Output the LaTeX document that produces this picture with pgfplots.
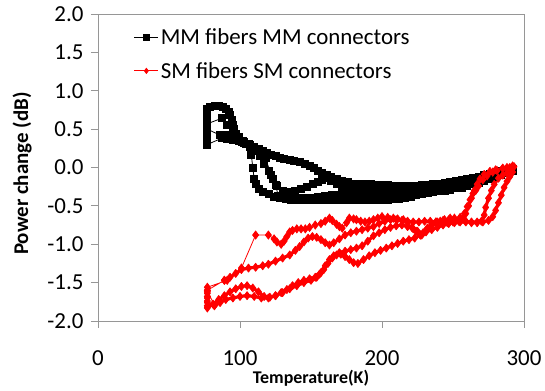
\documentclass[border=0pt]{standalone}
\usepackage{fontspec}
\setmainfont{Carlito}
\usepackage{pgfplots}
\pgfplotsset{compat=1.18}
\definecolor{axgray}{RGB}{150,150,150}
\definecolor{myred}{RGB}{255,0,0}
\begin{document}
\begin{tikzpicture}
\begin{axis}[
  name=ax, at={(0,0)}, anchor=south west,
  width=426bp, height=307bp, scale only axis,
  xmin=0, xmax=300, ymin=-2, ymax=2,
  xtick={0,100,200,300}, xticklabels={0,100,200,300},
  ytick={-2,-1.5,-1,-0.5,0,0.5,1,1.5,2},
  yticklabels={-2.0,-1.5,-1.0,-0.5,0.0,0.5,1.0,1.5,2.0},
  tick pos=left, tick align=outside, major tick length=7bp,
  axis line style={draw=axgray, line width=0.8bp},
  every tick/.style={draw=axgray, line width=0.8bp},
  ticklabel style={font=\fontsize{23}{28}\selectfont, text=black},
  xticklabel shift=19bp,
  yticklabel shift=4bp,
  xlabel={Temperature(K)},
  xlabel style={at={(rel axis cs:0.5,-0.188)}, anchor=center, font=\bfseries\fontsize{18}{22}\selectfont},
  ylabel={Power change (dB)},
  ylabel style={at={(rel axis cs:-0.178,0.48)}, anchor=center, font=\bfseries\fontsize{21}{25}\selectfont},
  legend cell align=left,
  legend style={draw=none, fill=none, at={(rel axis cs:0.084,0.959)}, anchor=north west,
    font=\fontsize{23}{28}\selectfont, row sep=12bp, inner sep=0pt},
  legend image code/.code={\draw[mark repeat=2,mark phase=2,#1,line width=0.8bp,mark size=2.6bp] plot coordinates {(0bp,0bp) (12bp,0bp) (24bp,0bp)};},
  clip=false,
]
\addplot[black, line width=0.8bp, mark=square*, mark size=3.5bp, mark options={solid}] coordinates {
(292,-0.02)(288,-0.03)(284,-0.05)(280,-0.06)(276,-0.08)(272,-0.10)(268,-0.12)(264,-0.13)(260,-0.15)(256,-0.16)(252,-0.17)(248,-0.19)(244,-0.20)(240,-0.21)(236,-0.22)(232,-0.23)(228,-0.23)(224,-0.24)(220,-0.24)(216,-0.24)(212,-0.24)(208,-0.24)(204,-0.23)(200,-0.23)(196,-0.23)(192,-0.22)(188,-0.22)(184,-0.21)(180,-0.21)(176,-0.19)(172,-0.17)(168,-0.15)(164,-0.12)(161,-0.10)(158,-0.07)(155,-0.04)(152,-0.01)(149,0.02)(146,0.05)(142,0.07)(138,0.09)(135,0.10)(131,0.11)(128,0.13)(125,0.15)(122,0.17)(119,0.19)(116,0.22)(113,0.24)(110,0.26)(107,0.29)(104,0.31)(101,0.34)(99,0.38)(97,0.44)(96,0.50)(95,0.56)(94,0.62)(93,0.68)(92,0.73)(90,0.77)(88,0.79)(85,0.80)(82,0.80)(79,0.79)(77,0.77)(77,0.72)(77,0.67)(77,0.62)(77,0.57)
(87,0.64)(91,0.55)(95,0.47)(99,0.40)(103,0.33)(107,0.27)(108,0.16)(109,0.0)(110,-0.15)(111,-0.22)(113,-0.28)(116,-0.32)(120,-0.35)(124,-0.38)(128,-0.40)(132,-0.41)(136,-0.42)(140,-0.42)(144,-0.42)(148,-0.42)(152,-0.42)(156,-0.42)(160,-0.42)(164,-0.42)(168,-0.42)(172,-0.42)(176,-0.42)(180,-0.42)(184,-0.42)(188,-0.42)(192,-0.42)(196,-0.42)(200,-0.42)(204,-0.42)(208,-0.41)(212,-0.41)(216,-0.40)(220,-0.38)(224,-0.36)(228,-0.35)(232,-0.33)(236,-0.31)(240,-0.30)(244,-0.28)(248,-0.27)(252,-0.25)(256,-0.23)(260,-0.22)(264,-0.20)(268,-0.18)(272,-0.16)(276,-0.14)(280,-0.12)(284,-0.09)(288,-0.06)(292,-0.04)
(288,-0.07)(284,-0.10)(280,-0.12)(276,-0.15)(272,-0.18)(268,-0.20)(264,-0.22)(260,-0.24)(256,-0.26)(252,-0.27)(248,-0.29)(244,-0.30)(240,-0.31)(236,-0.32)(232,-0.32)(228,-0.33)(224,-0.33)(220,-0.33)(216,-0.33)(212,-0.33)(208,-0.33)(204,-0.33)(200,-0.33)(196,-0.33)(192,-0.32)(188,-0.32)(184,-0.31)(180,-0.30)(176,-0.28)(172,-0.25)(168,-0.21)(164,-0.17)(161,-0.14)(158,-0.16)(155,-0.19)(151,-0.22)(147,-0.25)(143,-0.28)(139,-0.30)(135,-0.32)(131,-0.35)(127,-0.37)(125,-0.23)(122,-0.10)(118,0.12)(114,0.22)(110,0.27)(106,0.31)(102,0.35)(98,0.40)(94,0.42)(90,0.43)(86,0.42)(77,0.50)(77,0.45)(77,0.40)(77,0.35)(77,0.30)
(87,0.38)(91,0.37)(95,0.36)(99,0.35)(103,0.32)(107,0.28)(111,0.22)(114,0.15)(117,0.05)(120,-0.05)(123,-0.15)(126,-0.24)(130,-0.30)(134,-0.34)(138,-0.37)(142,-0.39)(146,-0.40)(150,-0.39)(155,-0.38)(160,-0.37)(165,-0.36)(170,-0.36)(175,-0.37)(180,-0.37)(185,-0.37)(190,-0.37)(195,-0.37)(200,-0.37)(205,-0.37)(210,-0.36)(215,-0.35)(220,-0.34)(225,-0.32)(230,-0.29)(235,-0.27)(240,-0.25)(245,-0.23)(250,-0.21)(255,-0.19)(260,-0.17)(265,-0.15)(270,-0.13)(275,-0.10)(280,-0.08)(285,-0.05)(290,-0.03)
};
\addlegendentry{MM fibers MM connectors}
% SM: sparse cooling run (thin connecting line)
\addplot[myred, line width=0.8bp, mark=diamond*, mark size=4bp, mark options={solid}] coordinates {
(292,0.02)(288,0.00)(285,-0.01)(281,-0.04)(278,-0.06)(274,-0.11)(271,-0.16)(268,-0.24)(266,-0.30)(264,-0.34)(262,-0.42)(260,-0.51)(258,-0.60)(255,-0.65)(251,-0.66)(248,-0.66)(244,-0.68)(241,-0.70)(238,-0.71)(235,-0.75)(232,-0.79)(229,-0.85)(227,-0.88)(224,-0.83)(221,-0.78)(218,-0.72)(215,-0.68)(211,-0.67)(208,-0.66)(204,-0.65)(200,-0.64)(197,-0.66)(194,-0.68)(191,-0.70)(188,-0.71)(185,-0.70)(182,-0.68)(180,-0.67)(177,-0.66)(175,-0.72)(172,-0.79)(170,-0.77)(168,-0.74)(165,-0.69)(163,-0.66)(160,-0.70)(157,-0.73)(153,-0.75)(149,-0.78)(146,-0.80)(143,-0.80)(140,-0.80)(137,-0.82)(135,-0.84)(133,-0.90)(131,-0.96)(129,-1.00)(126,-0.97)(124,-0.93)(120,-0.88)(111,-0.88)(101,-1.31)(91,-1.47)(77,-1.56)(77,-1.62)(77,-1.68)(77,-1.74)(77,-1.80)(77,-1.83)(82,-1.80)
(77,-1.60)(89,-1.47)
};
\addlegendentry{SM fibers SM connectors}
% SM: densely sampled runs
\addplot[myred, line width=3.2bp, line join=round, mark=diamond*, mark size=4bp, mark options={solid,line width=0.8bp}, forget plot] coordinates {
(82,-1.80)(86,-1.76)(90,-1.72)(95,-1.70)(100,-1.68)(105,-1.67)(110,-1.68)(115,-1.70)(120,-1.70)(125,-1.67)(130,-1.63)(135,-1.58)(140,-1.54)(145,-1.50)(150,-1.47)(154,-1.43)(157,-1.37)(160,-1.28)(163,-1.20)(166,-1.15)(170,-1.11)(174,-1.09)(178,-1.07)(182,-1.05)(186,-1.02)(190,-0.96)(194,-0.89)(198,-0.85)(202,-0.81)(206,-0.78)(210,-0.76)(214,-0.75)(218,-0.77)(222,-0.80)(225,-0.83)(228,-0.88)(231,-0.82)(235,-0.75)(239,-0.71)(243,-0.69)(247,-0.68)(251,-0.68)(255,-0.69)(259,-0.70)(263,-0.72)(267,-0.72)(270,-0.70)(272,-0.62)(273,-0.52)(275,-0.40)(277,-0.30)(279,-0.22)(282,-0.14)(285,-0.10)(288,-0.07)(291,-0.04)
(292,-0.06)(290,-0.12)(288,-0.18)(286,-0.26)(284,-0.36)(282,-0.46)(280,-0.56)(278,-0.64)(275,-0.69)(271,-0.71)(267,-0.71)(263,-0.71)(259,-0.71)(255,-0.71)(251,-0.72)(247,-0.73)(243,-0.75)(239,-0.78)(235,-0.81)(231,-0.84)(227,-0.88)(223,-0.92)(219,-0.94)(215,-0.96)(211,-0.99)(207,-1.02)(203,-1.05)(199,-1.08)(195,-1.11)(191,-1.15)(187,-1.20)(183,-1.25)(180,-1.24)(177,-1.20)(174,-1.16)(171,-1.13)(168,-1.14)(165,-1.18)(162,-1.25)(159,-1.33)(156,-1.39)(153,-1.43)(149,-1.45)(145,-1.47)(141,-1.50)(137,-1.54)(133,-1.59)(129,-1.63)(125,-1.67)(121,-1.69)(117,-1.68)(113,-1.62)(109,-1.57)(105,-1.54)(101,-1.55)(97,-1.58)(93,-1.62)(89,-1.67)(85,-1.72)(81,-1.78)(77,-1.82)(77,-1.76)(77,-1.70)(77,-1.64)(77,-1.60)
};
\addplot[myred, line width=3.2bp, line join=round, mark=diamond*, mark size=4bp, mark options={solid,line width=0.8bp}, forget plot] coordinates {
(89,-1.47)(93,-1.43)(97,-1.38)(101,-1.33)(106,-1.31)(111,-1.30)(116,-1.28)(120,-1.26)(125,-1.22)(130,-1.18)(135,-1.14)(139,-1.08)(142,-1.03)(145,-0.97)(148,-0.92)(151,-0.90)(154,-0.91)(157,-0.94)(160,-0.98)(163,-1.01)(166,-0.98)(170,-0.93)(174,-0.88)(178,-0.85)(182,-0.83)(186,-0.81)(190,-0.79)(194,-0.77)(198,-0.73)(202,-0.70)(206,-0.68)(210,-0.68)(214,-0.69)(218,-0.70)(222,-0.71)(226,-0.71)(230,-0.70)(234,-0.70)(238,-0.71)(242,-0.72)(246,-0.72)(250,-0.71)(254,-0.70)(257,-0.67)(259,-0.60)(261,-0.50)(263,-0.40)(265,-0.30)(267,-0.22)(269,-0.15)(272,-0.09)(276,-0.05)(280,-0.03)(285,-0.01)(290,0.00)(293,0.01)
};
\end{axis}
\path ([shift={(-98bp,-66bp)}]ax.south west) rectangle ([shift={(21bp,14bp)}]ax.north east);
\end{tikzpicture}
\end{document}
